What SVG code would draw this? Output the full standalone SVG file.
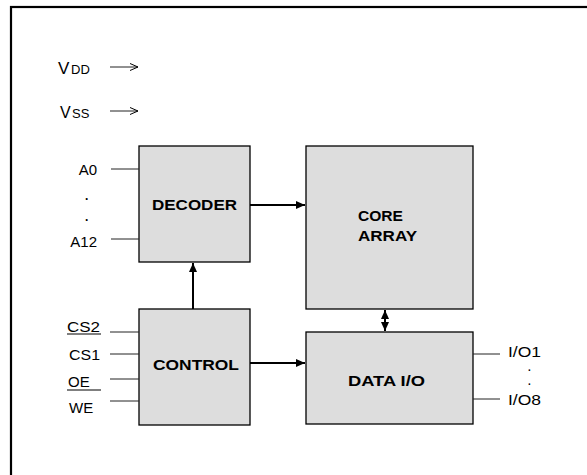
<svg xmlns="http://www.w3.org/2000/svg" width="587" height="475" viewBox="0 0 587 475">
<style>
.frame{fill:none;stroke:#000;stroke-width:2.2}
.blk{fill:#dddddd;stroke:#000;stroke-width:1.3}
.bl{font-family:"Liberation Sans",Arial,sans-serif;font-weight:bold;font-size:15px;fill:#000}
.lb{font-family:"Liberation Sans",Arial,sans-serif;font-size:15px;fill:#000}
.dot{font-family:"Liberation Sans",Arial,sans-serif;font-size:12px;font-weight:bold;fill:#000}
.pin{stroke:#222;stroke-width:1;fill:none}
.bus{stroke:#000;stroke-width:2;fill:none}
.ul{stroke:#000;stroke-width:1.2}
</style>
<defs>
<marker id="ah" markerUnits="userSpaceOnUse" markerWidth="9" markerHeight="8" refX="9" refY="4" orient="auto-start-reverse">
<path d="M0,0 L9,4 L0,8 z" fill="#000"/>
</marker>
<marker id="oa" markerUnits="userSpaceOnUse" markerWidth="10" markerHeight="9" refX="9" refY="4.5" orient="auto">
<path d="M1,1 L9,4.5 L1,8" fill="none" stroke="#000" stroke-width="1"/>
</marker>
</defs>
<rect class="frame" x="11" y="7" width="600" height="500"/>

<g id="power">
<text class="lb" x="58" y="74" style="font-size:17px">V</text>
<text class="lb" x="71" y="74" style="font-size:13px">DD</text>
<text class="lb" x="60" y="118" style="font-size:16px">V</text>
<text class="lb" x="72" y="118" style="font-size:13px">SS</text>
<line class="pin" x1="110" y1="67" x2="138" y2="67" marker-end="url(#oa)"/>
<line class="pin" x1="110" y1="111" x2="138" y2="111" marker-end="url(#oa)"/>
</g>

<g id="decoder">
<rect class="blk" x="139" y="146" width="111" height="116"/>
<text class="bl" x="152" y="210" textLength="85" lengthAdjust="spacingAndGlyphs">DECODER</text>
</g>
<g id="core-array">
<rect class="blk" x="306" y="146" width="167" height="163"/>
<text class="bl" x="358" y="221" textLength="45" lengthAdjust="spacingAndGlyphs">CORE</text>
<text class="bl" x="358" y="241" textLength="59" lengthAdjust="spacingAndGlyphs">ARRAY</text>
</g>
<g id="control">
<rect class="blk" x="139" y="309" width="111" height="116"/>
<text class="bl" x="153" y="370" textLength="86" lengthAdjust="spacingAndGlyphs">CONTROL</text>
</g>
<g id="data-io">
<rect class="blk" x="306" y="332" width="167" height="92"/>
<text class="bl" x="348" y="386" textLength="77" lengthAdjust="spacingAndGlyphs">DATA I/O</text>
</g>

<g id="address-pins">
<text class="lb" x="97" y="175" text-anchor="end">A0</text>
<text class="dot" x="85" y="200">.</text>
<text class="dot" x="85" y="221">.</text>
<text class="lb" x="97" y="247" text-anchor="end">A12</text>
<line class="pin" x1="111" y1="169" x2="139" y2="169"/>
<line class="pin" x1="111" y1="239" x2="139" y2="239"/>
</g>

<g id="control-pins">
<text class="lb" x="67" y="332" textLength="33" lengthAdjust="spacingAndGlyphs">CS2</text>
<line class="ul" x1="67" y1="334" x2="101" y2="334"/>
<text class="lb" x="69" y="360" textLength="31" lengthAdjust="spacingAndGlyphs">CS1</text>
<text class="lb" x="68" y="387">OE</text>
<line class="ul" x1="67" y1="390" x2="101" y2="390"/>
<text class="lb" x="69" y="413">WE</text>
<line class="pin" x1="110" y1="332" x2="139" y2="332"/>
<line class="pin" x1="110" y1="354" x2="139" y2="354"/>
<line class="pin" x1="110" y1="379" x2="139" y2="379"/>
<line class="pin" x1="110" y1="401" x2="139" y2="401"/>
</g>

<g id="io-pins">
<line class="pin" x1="473" y1="354" x2="500" y2="354"/>
<line class="pin" x1="473" y1="399" x2="500" y2="399"/>
<text class="lb" x="508" y="357" textLength="33" lengthAdjust="spacingAndGlyphs">I/O1</text>
<text class="dot" x="528" y="371" style="font-size:10px">.</text>
<text class="dot" x="528" y="385" style="font-size:10px">.</text>
<text class="lb" x="508" y="405" textLength="33" lengthAdjust="spacingAndGlyphs">I/O8</text>
</g>

<g id="connectors">
<line class="bus" x1="250" y1="205" x2="305" y2="205" marker-end="url(#ah)"/>
<line class="bus" x1="193" y1="309" x2="193" y2="263" marker-end="url(#ah)"/>
<line class="bus" x1="250" y1="363" x2="305" y2="363" marker-end="url(#ah)"/>
<line class="bus" x1="385" y1="310" x2="385" y2="331" marker-start="url(#ah)" marker-end="url(#ah)"/>
</g>
</svg>
